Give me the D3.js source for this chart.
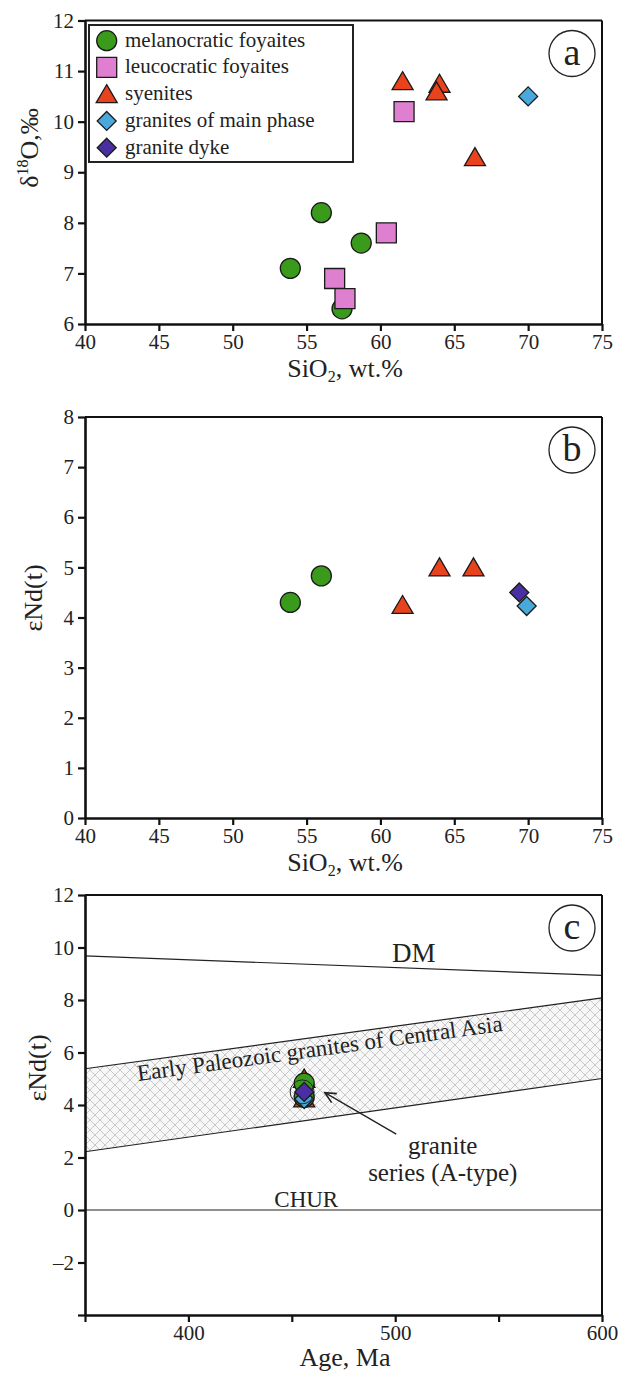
<!doctype html>
<html>
<head>
<meta charset="utf8">
<script src="https://d3js.org/d3.v7.min.js"></script>
<style>
    body { margin: 0; background: #fff; }
    svg { font-family: "Liberation Serif", "Times New Roman", serif; }
    .axis path, .axis line { stroke: #111; }
    .axis path { stroke-width: 2.6; }
    .axis line { stroke-width: 2.2; }
    .axis text { font-size: 21px; fill: #222; font-family: "Liberation Serif", serif; }
    .frame { stroke: #111; stroke-width: 2; }
    .title { font-size: 26px; fill: #222; }
</style>
</head>
<body>
<svg width="621" height="1374"></svg>
<script>

// rock types (legend order)
var names  = ["melanocratic foyaites", "leucocratic foyaites", "syenites", "granites of main phase", "granite dyke"];
var colors = ["#3a9a1b", "#de80cf", "#e8431d", "#4aa8db", "#4a2ea3"];
var shapes = ["circle", "square", "triangle", "diamond", "diamond"];

// panel a: SiO2 vs d18O
var melSiO2a = [56.0, 58.7, 53.9, 57.4],  melO18 = [8.2, 7.6, 7.1, 6.3];
var leuSiO2a = [61.6, 60.4, 56.9, 57.6],  leuO18 = [10.2, 7.8, 6.9, 6.5];
var syeSiO2a = [61.5, 64.0, 63.8, 66.4],  syeO18 = [10.8, 10.75, 10.6, 9.3];
var graSiO2a = [70.0],                    graO18 = [10.5];

// panel b: SiO2 vs eNd(t)
var melSiO2b = [53.9, 56.0],              melNd = [4.3, 4.83];
var syeSiO2b = [61.5, 64.0, 66.3],        syeNd = [4.25, 5.0, 5.0];
var dykSiO2b = [69.4],                    dykNd = [4.5];
var graSiO2b = [69.9],                    graNd = [4.23];

// panel c: age vs eNd(t)
var sampleAge = 456;
var lineAge   = [350, 600];
var dmNd      = [9.68, 8.94];
var bandTop   = [5.38, 8.08];
var bandBot   = [2.22, 5.01];
var churNd    = [0, 0];
var arrowFrom = [500.5, 2.89], arrowTo = [466, 4.47];
var ringAt    = [455, 4.5];

// ticks
var siTicks  = [40, 45, 50, 55, 60, 65, 70, 75];
var o18Ticks = [6, 7, 8, 9, 10, 11, 12];
var ndTicksB = [0, 1, 2, 3, 4, 5, 6, 7, 8];
var ndTicksC = [-4, -2, 0, 2, 4, 6, 8, 10, 12];
var ageTicks = [350, 400, 450, 500, 550, 600];
var ageLabels = [400, 500, 600];

var svg = d3.select("svg");

function symbolPath(kind) {
    if (kind === "circle") return d3.symbol(d3.symbolCircle, Math.PI * 100)();
    if (kind === "square") return "M-10,-10H10V10H-10Z";
    if (kind === "triangle") return "M0,-9.5L10.5,8.5L-10.5,8.5Z";
    return "M0,-9.5L9.5,0L0,9.5L-9.5,0Z";
}

function drawPoints(g, x, y, xs, ys, k) {
    g.append("g").selectAll("path")
     .data(d3.zip(xs, ys))
     .enter().append("path")
     .attr("d", symbolPath(shapes[k]))
     .attr("transform", function(d) { return "translate(" + x(d[0]) + "," + y(d[1]) + ")"; })
     .attr("fill", colors[k])
     .attr("stroke", "#1a1a1a")
     .attr("stroke-width", 1.3);
}

function frame(x, y, xTicks, yTicks, yFmt, xLabels) {
    var x0 = x.range()[0], x1 = x.range()[1], y0 = y.range()[0], y1 = y.range()[1];
    svg.append("line").attr("class", "frame")
       .attr("x1", x0).attr("x2", x1).attr("y1", y1).attr("y2", y1);
    svg.append("line").attr("class", "frame")
       .attr("x1", x1).attr("x2", x1).attr("y1", y1).attr("y2", y0);

    svg.append("g").attr("class", "axis")
       .attr("transform", "translate(0," + y0 + ")")
       .call(d3.axisBottom(x).tickValues(xTicks).tickSize(7).tickSizeOuter(0).tickPadding(3)
             .tickFormat(function(d) { return xLabels.indexOf(d) >= 0 ? d : ""; }));
    svg.append("g").attr("class", "axis")
       .attr("transform", "translate(" + x0 + ",0)")
       .call(d3.axisLeft(y).tickValues(yTicks).tickSize(7).tickSizeOuter(0).tickPadding(4)
             .tickFormat(yFmt));
}

function letter(x, y, t) {
    var cx = x.range()[1] - 30, cy = y.range()[1] + 33;
    svg.append("circle").attr("cx", cx).attr("cy", cy).attr("r", 23)
       .attr("fill", "#fff").attr("stroke", "#222").attr("stroke-width", 1.3);
    svg.append("text").attr("x", cx).attr("y", cy + 11)
       .attr("text-anchor", "middle").attr("font-size", "38px").attr("fill", "#222").text(t);
}

function sioTitle(y0) {
    var t = svg.append("text").attr("class", "title")
       .attr("x", 345).attr("y", y0 + 53).attr("text-anchor", "middle");
    t.append("tspan").text("SiO");
    t.append("tspan").attr("font-size", "16px").attr("dy", 5).text("2");
    t.append("tspan").attr("dy", -5).text(", wt.%");
}

var intFmt = function(d) { return d; };

// ---------- panel a ----------
var xa = d3.scaleLinear().domain([40, 75]).range([85, 602]);
var ya = d3.scaleLinear().domain([6, 12]).range([324, 20.5]);
frame(xa, ya, siTicks, o18Ticks, intFmt, siTicks);
var ga = svg.append("g");
drawPoints(ga, xa, ya, melSiO2a, melO18, 0);
drawPoints(ga, xa, ya, leuSiO2a, leuO18, 1);
drawPoints(ga, xa, ya, syeSiO2a, syeO18, 2);
drawPoints(ga, xa, ya, graSiO2a, graO18, 3);
letter(xa, ya, "a");
sioTitle(324);

var ta = svg.append("text").attr("class", "title")
   .attr("transform", "translate(38,148) rotate(-90)").attr("text-anchor", "middle");
ta.append("tspan").text("δ");
ta.append("tspan").attr("font-size", "16px").attr("dy", -10).text("18");
ta.append("tspan").attr("dy", 10).text("O,‰");

// legend
var lg = svg.append("g").attr("transform", "translate(89,25)");
lg.append("rect").attr("width", 264).attr("height", 137)
  .attr("fill", "#fff").attr("stroke", "#222").attr("stroke-width", 2);
names.forEach(function(n, i) {
    var cy = 15.7 + i * 26.75;
    lg.append("path").attr("d", symbolPath(shapes[i]))
      .attr("transform", "translate(17.7," + cy + ")")
      .attr("fill", colors[i]).attr("stroke", "#1a1a1a").attr("stroke-width", 1.3);
    lg.append("text").attr("x", 36).attr("y", cy + 6)
      .attr("font-size", "21px").attr("fill", "#222").text(n);
});

// ---------- panel b ----------
var xb = d3.scaleLinear().domain([40, 75]).range([85, 602]);
var yb = d3.scaleLinear().domain([0, 8]).range([818, 417]);
frame(xb, yb, siTicks, ndTicksB, intFmt, siTicks);
var gb = svg.append("g");
drawPoints(gb, xb, yb, melSiO2b, melNd, 0);
drawPoints(gb, xb, yb, syeSiO2b, syeNd, 2);
drawPoints(gb, xb, yb, dykSiO2b, dykNd, 4);
drawPoints(gb, xb, yb, graSiO2b, graNd, 3);
letter(xb, yb, "b");
sioTitle(818);
svg.append("text").attr("class", "title")
   .attr("transform", "translate(42,598) rotate(-90)").attr("text-anchor", "middle")
   .attr("font-size", "24px").text("εNd(t)");

// ---------- panel c ----------
var xc = d3.scaleLinear().domain([350, 600]).range([85, 602]);
var yc = d3.scaleLinear().domain([-4, 12]).range([1315, 895]);

var defs = svg.append("defs");
var pat = defs.append("pattern").attr("id", "hatch")
   .attr("patternUnits", "userSpaceOnUse").attr("width", 10).attr("height", 10);
pat.append("rect").attr("width", 10).attr("height", 10).attr("fill", "#f7f7f7");
pat.append("path").attr("d", "M0,0L10,10M10,0L0,10")
   .attr("stroke", "#bcbcbc").attr("stroke-width", 0.8);

var band = d3.area()
    .x(function(d) { return xc(d[0]); })
    .y0(function(d) { return yc(d[2]); })
    .y1(function(d) { return yc(d[1]); });
svg.append("path").datum(d3.zip(lineAge, bandTop, bandBot))
   .attr("d", band).attr("fill", "url(#hatch)");

var ln = d3.line().x(function(d) { return xc(d[0]); }).y(function(d) { return yc(d[1]); });
[dmNd, bandTop, bandBot, churNd].forEach(function(v) {
    svg.append("path").datum(d3.zip(lineAge, v)).attr("d", ln)
       .attr("fill", "none").attr("stroke", "#222").attr("stroke-width", 1.2);
});

frame(xc, yc, ageTicks, ndTicksC, function(d) { return d === -4 ? "" : (d < 0 ? "–" + (-d) : d); }, ageLabels);

var gc = svg.append("g");
drawPoints(gc, xc, yc, syeNd.map(function() { return sampleAge; }), syeNd, 2);
drawPoints(gc, xc, yc, melNd.map(function() { return sampleAge; }), melNd, 0);
drawPoints(gc, xc, yc, [sampleAge], graNd, 3);
drawPoints(gc, xc, yc, [sampleAge], dykNd, 4);
svg.append("circle").attr("cx", xc(ringAt[0])).attr("cy", yc(ringAt[1])).attr("r", 12)
   .attr("fill", "none").attr("stroke", "#222").attr("stroke-width", 1);

// arrow
var ax0 = xc(arrowFrom[0]), ay0 = yc(arrowFrom[1]), ax1 = xc(arrowTo[0]), ay1 = yc(arrowTo[1]);
var ang = Math.atan2(ay0 - ay1, ax0 - ax1);
svg.append("line").attr("x1", ax0).attr("y1", ay0).attr("x2", ax1).attr("y2", ay1)
   .attr("stroke", "#222").attr("stroke-width", 1.3);
svg.append("path")
   .attr("d", "M" + (ax1 + 12 * Math.cos(ang - 0.45)) + "," + (ay1 + 12 * Math.sin(ang - 0.45)) +
              "L" + ax1 + "," + ay1 +
              "L" + (ax1 + 12 * Math.cos(ang + 0.45)) + "," + (ay1 + 12 * Math.sin(ang + 0.45)))
   .attr("fill", "none").attr("stroke", "#222").attr("stroke-width", 1.6);

// labels in panel c
svg.append("text").attr("x", xc(509)).attr("y", yc(9.45)).attr("text-anchor", "middle")
   .attr("font-size", "27px").attr("fill", "#222").text("DM");
svg.append("text").attr("x", xc(457)).attr("y", yc(0.11)).attr("text-anchor", "middle")
   .attr("font-size", "23px").attr("fill", "#222").text("CHUR");
svg.append("text").attr("x", xc(523)).attr("y", yc(2.13)).attr("text-anchor", "middle")
   .attr("font-size", "25px").attr("fill", "#222").text("granite");
svg.append("text").attr("x", xc(523)).attr("y", yc(1.1)).attr("text-anchor", "middle")
   .attr("font-size", "25px").attr("fill", "#222").text("series (A-type)");
var rot = Math.atan2(yc(bandTop[1]) - yc(bandTop[0]), xc(lineAge[1]) - xc(lineAge[0])) * 180 / Math.PI;
svg.append("text")
   .attr("transform", "translate(" + xc(464) + "," + yc(5.87) + ") rotate(" + rot + ")")
   .attr("text-anchor", "middle").attr("font-size", "23px").attr("fill", "#222")
   .text("Early Paleozoic granites of Central Asia");

letter(xc, yc, "c");
svg.append("text").attr("class", "title").attr("x", 345).attr("y", 1366)
   .attr("text-anchor", "middle").attr("font-size", "28px").text("Age, Ma");
svg.append("text").attr("class", "title")
   .attr("transform", "translate(46,1068) rotate(-90)").attr("text-anchor", "middle")
   .attr("font-size", "26px").text("εNd(t)");

</script>
</body>
</html>
